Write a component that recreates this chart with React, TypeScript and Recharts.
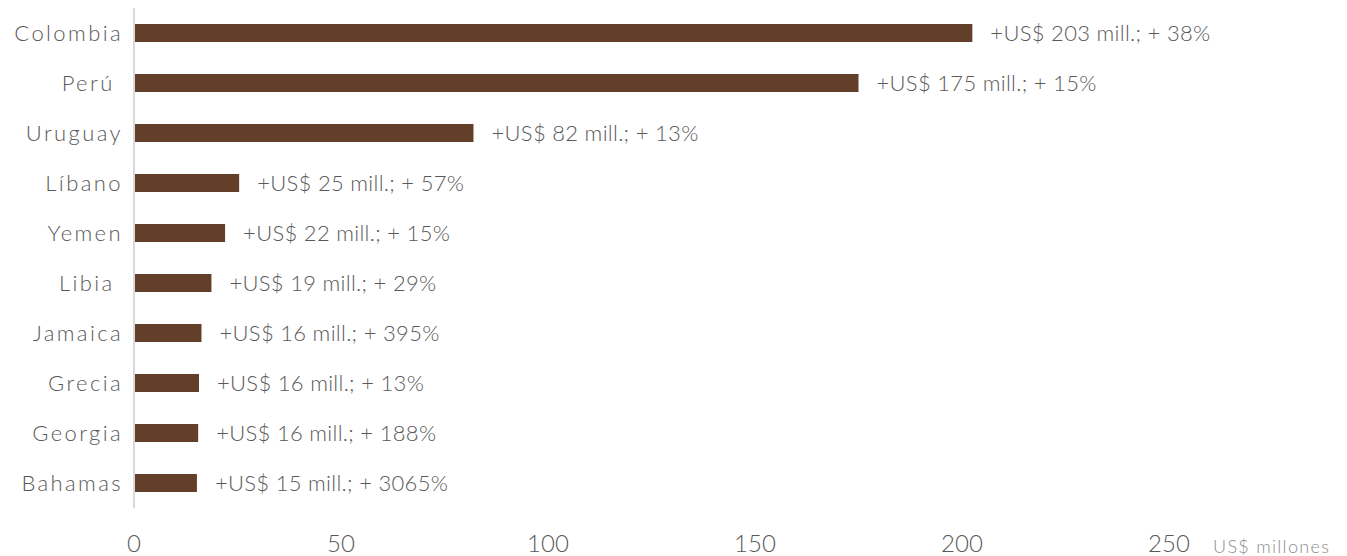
import React from "react";
import { BarChart, Bar, XAxis, YAxis, LabelList } from "recharts";

const countries = ["Colombia", "Perú ", "Uruguay", "Líbano", "Yemen", "Libia ", "Jamaica", "Grecia", "Georgia", "Bahamas"];
const values = [202.5, 175, 82, 25.4, 22, 18.7, 16.3, 15.7, 15.5, 15.2];
const labels = [
  "+US$ 203 mill.; + 38%",
  "+US$ 175 mill.; + 15%",
  "+US$ 82 mill.; + 13%",
  "+US$ 25 mill.; + 57%",
  "+US$ 22 mill.; + 15%",
  "+US$ 19 mill.; + 29%",
  "+US$ 16 mill.; + 395%",
  "+US$ 16 mill.; + 13%",
  "+US$ 16 mill.; + 188%",
  "+US$ 15 mill.; + 3065%",
];
const xTicks = [0, 50, 100, 150, 200, 250];
const unitLabel = "US$ millones";

const data = countries.map((c, i) => ({ country: c, value: values[i], label: labels[i] }));

const FONT = "Lato, 'Open Sans', sans-serif";

const YTick = (props: any) => {
  const { x, y, payload } = props;
  return (
    <text
      x={x - 11}
      y={y}
      dy="0.35em"
      textAnchor="end"
      fill="#595959"
      fontSize={22}
      fontFamily={FONT}
      fontWeight={300}
      letterSpacing={2.4}
      xmlSpace="preserve"
      style={{ whiteSpace: "pre" }}
    >
      {payload.value}
    </text>
  );
};

const XTick = (props: any) => {
  const { x, y, payload } = props;
  return (
    <text x={x} y={y + 27} dy="0.71em" textAnchor="middle" fill="#595959" fontSize={24} fontFamily={FONT} fontWeight={300}>
      {payload.value}
    </text>
  );
};

const UnitLabel = (props: any) => {
  const vb = props.viewBox || {};
  return (
    <text
      x={(vb.x || 0) + (vb.width || 0) + 44}
      y={(vb.y || 0) + 45}
      fill="#8c8c8c"
      fontSize={18}
      fontFamily={FONT}
      fontWeight={300}
      letterSpacing={1.3}
    >
      {unitLabel}
    </text>
  );
};

const DataLabel = (props: any) => {
  const { x, y, width, height, index } = props;
  return (
    <text
      x={x + width + 18}
      y={y + height / 2}
      dy="0.35em"
      fill="#595959"
      fontSize={22}
      fontFamily={FONT}
      fontWeight={300}
      letterSpacing={0.3}
    >
      {labels[index]}
    </text>
  );
};

export default function App() {
  return (
    <div style={{ position: "absolute", left: 0, top: 0, width: 1347, height: 556, background: "#fff" }}>
      <BarChart
        width={1347}
        height={556}
        data={data}
        layout="vertical"
        margin={{ top: 8, right: 178, bottom: 0, left: 0 }}
        barCategoryGap={16}
      >
        <XAxis
          type="number"
          domain={[0, 250]}
          ticks={xTicks}
          axisLine={false}
          tickLine={false}
          tickSize={0}
          tickMargin={0}
          height={48}
          tick={<XTick />}
          interval={0}
          label={<UnitLabel />}
        />
        <YAxis
          type="category"
          dataKey="country"
          width={134}
          axisLine={{ stroke: "#d9d9d9", strokeWidth: 2 }}
          tickLine={false}
          tickSize={0}
          tickMargin={0}
          tick={<YTick />}
          interval={0}
        />
        <Bar dataKey="value" fill="#633F2A" barSize={18} isAnimationActive={false}>
          <LabelList dataKey="label" content={<DataLabel />} />
        </Bar>
      </BarChart>
    </div>
  );
}
